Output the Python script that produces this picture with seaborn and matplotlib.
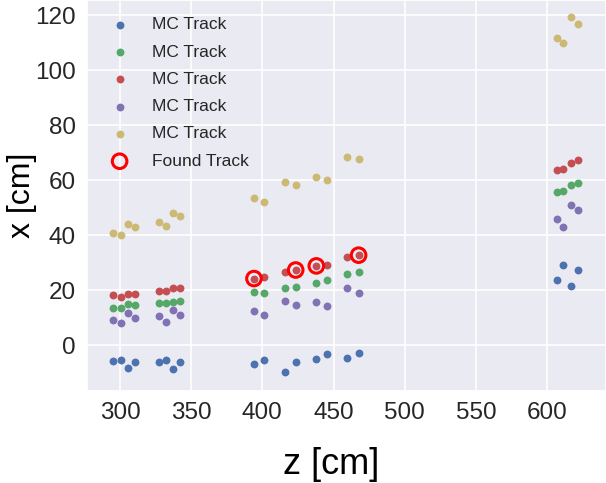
import matplotlib
matplotlib.use("Agg")
import matplotlib.pyplot as plt
import seaborn as sns
import pandas as pd

# detector plane positions (z, cm)
z_planes = [295.3, 300.5, 305.4, 310.3, 327.6, 332.3, 337.0, 341.9,
            394.3, 401.4, 416.1, 423.6, 437.9, 445.4, 459.6, 467.6,
            607.1, 611.3, 616.5, 621.4]

# MC tracks (x, cm) at each plane
track_blue = [-5.8, -5.5, -8.2, -6.3, -6.1, -5.5, -8.7, -6.3,
              -6.9, -5.5, -9.7, -6.1, -5.1, -3.3, -4.6, -2.7,
              23.6, 29.3, 21.6, 27.2]
track_green = [13.5, 13.5, 14.8, 14.7, 15.2, 15.2, 15.8, 16.0,
               19.2, 19.0, 20.8, 21.2, 22.5, 23.6, 25.7, 26.5,
               55.5, 56.2, 58.2, 59.0]
track_red = [18.2, 17.6, 18.7, 18.7, 19.5, 19.8, 20.8, 20.7,
             24.2, 24.8, 26.7, 27.2, 28.8, 29.1, 31.9, 32.7,
             63.6, 64.2, 66.3, 67.2]
track_purple = [9.3, 7.9, 11.5, 9.9, 10.5, 8.5, 12.6, 10.9,
                12.5, 10.8, 16.1, 14.5, 15.6, 14.2, 20.7, 18.9,
                45.8, 43.0, 51.0, 49.0]
track_yellow = [40.8, 39.9, 44.1, 42.9, 44.8, 43.4, 48.1, 46.9,
                53.5, 52.2, 59.3, 58.4, 61.1, 60.1, 68.5, 67.5,
                111.5, 109.9, 119.2, 116.6]

# found track hits
found_z = [394.1, 423.4, 437.9, 467.6]
found_x = [24.2, 27.3, 28.8, 32.7]

mc_label = "MC Track"
found_label = "Found Track"
x_label = "x [cm]"
z_label = "z [cm]"

sns.set_theme(style="darkgrid")
plt.rcParams["font.family"] = ["Liberation Sans", "DejaVu Sans"]
plt.rcParams["axes.facecolor"] = "#EAEAF2"
plt.rcParams["grid.color"] = "white"
plt.rcParams["grid.linewidth"] = 1.2

colors = sns.color_palette("deep6")

fig = plt.figure(figsize=(6.06, 4.83), dpi=100)
ax = fig.add_axes([87 / 606, (483 - 391) / 483, (606 - 87) / 606, 391 / 483])

tracks = [track_blue, track_green, track_red, track_purple, track_yellow]
for vals, col in zip(tracks, colors):
    df = pd.DataFrame({"z": z_planes, "x": vals})
    sns.scatterplot(data=df, x="z", y="x", color=col, s=32, linewidth=0,
                    label=mc_label, ax=ax)

dff = pd.DataFrame({"z": found_z, "x": found_x})
sns.scatterplot(data=dff, x="z", y="x", s=110, facecolors="none",
                edgecolor="red", linewidth=2.2, marker="o",
                label=found_label, ax=ax)

ax.set_xlim(276.8, 641.4)
ax.set_ylim(-16.7, 125.5)
ax.set_xticks([300, 350, 400, 450, 500, 550, 600])
ax.set_yticks([0, 20, 40, 60, 80, 100, 120])
ax.tick_params(labelsize=17.5, pad=8, length=0, labelcolor="#262626")

ax.set_xlabel(z_label, fontsize=26, color="black")
ax.set_ylabel(x_label, fontsize=23, color="black")
ax.xaxis.set_label_coords(0.47, -0.143)
ax.yaxis.set_label_coords(-0.097, 0.5)

leg = ax.legend(loc="upper left", frameon=False, fontsize=12.5,
                labelspacing=0.70, handletextpad=0.85,
                borderaxespad=0.0, bbox_to_anchor=(0.016, 0.974))
for t in leg.get_texts():
    t.set_color("#262626")

fig.savefig("out.png", dpi=100)
